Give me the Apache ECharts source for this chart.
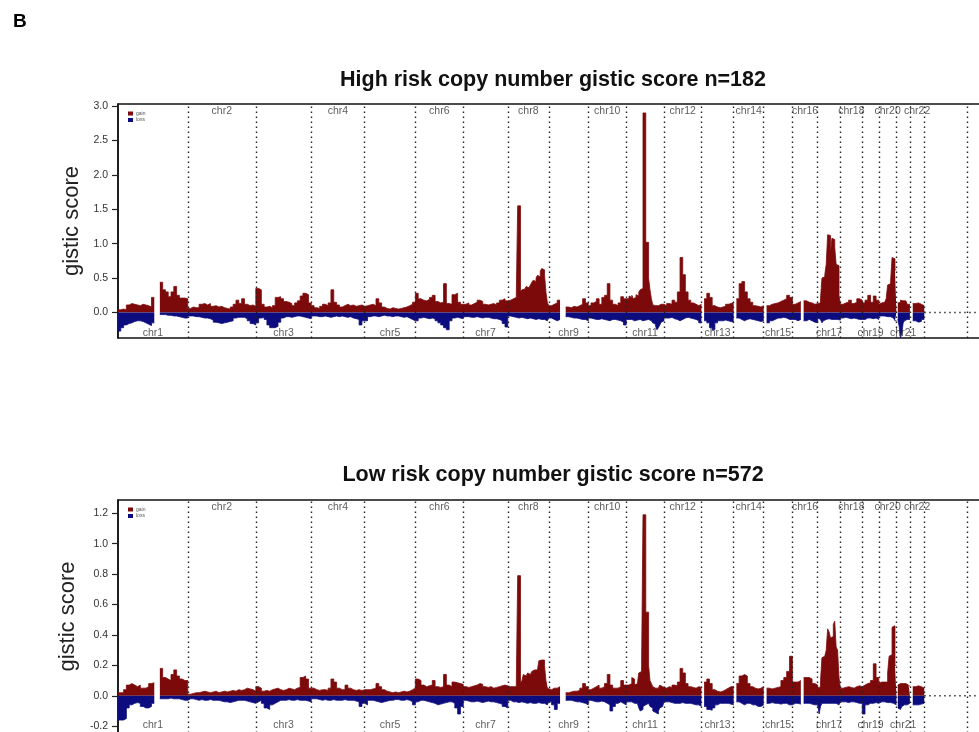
<!DOCTYPE html>
<html>
<head>
<meta charset="utf-8">
<script src="https://cdn.jsdelivr.net/npm/echarts@6/dist/echarts.min.js"></script>
<style>html,body{margin:0;padding:0;background:#fff;overflow:hidden}#c{width:1040px;height:732px}</style>
</head>
<body>
<div id="c"></div>
<script>
// chromosome lengths (Mb), chr1..chr22, chrX, chrY
const chrLengths = [249.25,243.2,198.0,191.15,180.9,171.1,159.1,146.4,141.2,135.5,135.0,133.85,115.15,107.35,102.5,90.35,81.2,78.1,59.1,63.0,48.1,51.3,155.3,59.4];
const chrNames = ['chr1','chr2','chr3','chr4','chr5','chr6','chr7','chr8','chr9','chr10','chr11','chr12','chr13','chr14','chr15','chr16','chr17','chr18','chr19','chr20','chr21','chr22'];
const highTicks = [0,0.5,1.0,1.5,2.0,2.5,3.0];
const lowTicks = [-0.2,0,0.2,0.4,0.6,0.8,1.0,1.2];

// binned gistic scores per chromosome (equal-width bins inside each chromosome)
const highGain = [
 [0.04,0.05,0.04,0.11,0.13,0.12,0.11,0.10,0.12,0.11,0.10,0.08,0.22,null,null,0.44,0.33,0.30,0.23,0.30,0.38,0.25,0.21,0.21,0.20],
 [0.06,0.08,0.07,0.07,0.12,0.13,0.11,0.13,0.09,0.10,0.08,0.09,0.07,0.06,0.05,0.08,0.12,0.18,0.13,0.20,0.12,0.10,0.11,0.09],
 [0.35,0.33,0.12,0.08,0.09,0.07,0.10,0.22,0.23,0.20,0.16,0.15,0.13,0.10,0.14,0.17,0.24,0.28,0.26,0.14],
 [0.10,0.07,0.06,0.09,0.12,0.10,0.14,0.33,0.15,0.11,0.08,0.10,0.12,0.10,0.11,0.09,0.10,0.11,0.09],
 [0.10,0.11,0.12,0.10,0.20,0.14,0.08,0.06,0.05,0.07,0.06,0.05,0.06,0.07,0.08,0.10,0.12,0.15],
 [0.28,0.20,0.18,0.17,0.19,0.22,0.25,0.16,0.14,0.15,0.42,0.13,0.12,0.26,0.28,0.15,0.12],
 [0.12,0.14,0.11,0.13,0.15,0.18,0.16,0.12,0.11,0.12,0.13,0.11,0.14,0.18,0.20,0.17],
 [0.16,0.18,0.17,0.20,0.18,0.22,0.20,1.55,1.55,0.30,0.33,0.34,0.33,0.38,0.36,0.38,0.40,0.44,0.47,0.45,0.50,0.54,0.52,0.60,0.64,0.62,0.55,0.30,0.15],
 [0.10,0.12,0.14,0.18,null,null,0.08,0.07,0.09,0.08,0.10,0.12,0.20,0.14],
 [0.10,0.14,0.16,0.20,0.12,0.22,0.25,0.42,0.18,0.12,0.10,0.14,0.23,0.20],
 [0.22,0.20,0.24,0.22,0.25,0.20,0.22,0.26,0.24,0.30,0.33,0.35,2.90,2.90,1.02,1.02,0.50,0.33,0.20,0.11,0.10,0.12,0.10,0.09,0.12,0.10,0.12],
 [0.10,0.13,0.12,0.18,0.15,0.30,0.80,0.55,0.30,0.18,0.14,0.12,0.10,0.12],
 [null,0.20,0.28,0.22,0.10,0.08,0.07,0.08,0.09,0.12,0.13,0.15],
 [null,0.20,0.42,0.45,0.30,0.20,0.15,0.10,0.09,0.08,0.10],
 [null,0.10,0.12,0.13,0.14,0.16,0.18,0.20,0.25,0.22],
 [0.12,0.14,0.16,null,0.17,0.15,0.14,0.12,0.13],
 [0.12,0.14,0.20,0.50,0.52,0.55,0.70,1.13,1.12,0.85,1.08,1.06,0.95,0.70,0.68,0.25],
 [0.12,0.14,0.15,0.18,0.13,0.15,0.20,0.18],
 [0.14,0.18,0.25,0.15,0.24,0.18],
 [0.12,0.14,0.13,0.15,0.13,0.20,0.40,0.42,0.45,0.80,0.78,0.62],
 [null,0.14,0.15,0.18,0.17,0.16,0.17,0.15,0.12,0.12],
 [null,0.13,0.14,0.12,0.10]
];
const highLoss = [
 [-0.27,-0.22,-0.18,-0.16,-0.15,-0.13,-0.12,-0.12,-0.13,-0.15,-0.17,-0.19,-0.15,null,null,-0.03,-0.03,-0.04,-0.04,-0.05,-0.05,-0.06,-0.07,-0.08,-0.08],
 [-0.05,-0.05,-0.06,-0.06,-0.07,-0.08,-0.08,-0.09,-0.11,-0.14,-0.15,-0.16,-0.15,-0.14,-0.13,-0.12,-0.08,-0.07,-0.07,-0.07,-0.09,-0.12,-0.16,-0.18],
 [-0.15,-0.08,-0.07,-0.10,-0.18,-0.22,-0.22,-0.20,-0.14,-0.08,-0.06,-0.06,-0.07,-0.06,-0.05,-0.05,-0.06,-0.07,-0.08,-0.09],
 [-0.05,-0.05,-0.06,-0.06,-0.05,-0.06,-0.07,-0.06,-0.05,-0.06,-0.05,-0.06,-0.07,-0.06,-0.08,-0.09,-0.10,-0.18,-0.12],
 [-0.12,-0.06,-0.05,-0.05,-0.06,-0.05,-0.04,-0.05,-0.05,-0.06,-0.05,-0.05,-0.06,-0.07,-0.06,-0.08,-0.10,-0.12],
 [-0.12,-0.08,-0.07,-0.08,-0.09,-0.08,-0.09,-0.12,-0.15,-0.18,-0.22,-0.25,-0.12,-0.08,-0.07,-0.08,-0.09],
 [-0.06,-0.06,-0.07,-0.07,-0.06,-0.07,-0.08,-0.07,-0.07,-0.08,-0.09,-0.09,-0.10,-0.12,-0.16,-0.21],
 [-0.05,-0.05,-0.06,-0.06,-0.07,-0.07,-0.08,-0.08,-0.08,-0.07,-0.07,-0.08,-0.08,-0.09,-0.09,-0.08,-0.08,-0.09,-0.10,-0.10,-0.09,-0.09,-0.10,-0.10,-0.11,-0.10,-0.10,-0.12,-0.14],
 [-0.08,-0.10,-0.12,-0.10,null,null,-0.06,-0.07,-0.08,-0.08,-0.09,-0.10,-0.10,-0.12],
 [-0.08,-0.09,-0.10,-0.10,-0.09,-0.10,-0.11,-0.12,-0.10,-0.10,-0.11,-0.12,-0.14,-0.18],
 [-0.10,-0.10,-0.11,-0.10,-0.10,-0.12,-0.12,-0.11,-0.10,-0.10,-0.11,-0.12,-0.12,-0.11,-0.10,-0.10,-0.11,-0.12,-0.13,-0.15,-0.17,-0.20,-0.25,-0.22,-0.18,-0.14,-0.12],
 [-0.08,-0.08,-0.07,-0.09,-0.10,-0.12,-0.10,-0.08,-0.07,-0.08,-0.09,-0.10,-0.12,-0.15],
 [null,-0.12,-0.15,-0.22,-0.25,-0.15,-0.12,-0.12,-0.11,-0.12,-0.13,-0.14],
 [null,-0.08,-0.10,-0.12,-0.10,-0.09,-0.10,-0.11,-0.12,-0.13,-0.12],
 [null,-0.15,-0.12,-0.10,-0.08,-0.08,-0.07,-0.08,-0.10,-0.10],
 [-0.10,-0.12,-0.10,null,-0.12,-0.10,-0.12,-0.14,-0.15],
 [-0.08,-0.10,-0.12,-0.15,-0.12,-0.10,-0.10,-0.09,-0.10,-0.10,-0.11,-0.10,-0.09,-0.10,-0.10,-0.11],
 [-0.08,-0.07,-0.08,-0.09,-0.08,-0.09,-0.10,-0.10],
 [-0.10,-0.08,-0.08,-0.09,-0.08,-0.10],
 [-0.05,-0.05,-0.06,-0.05,-0.05,-0.06,-0.05,-0.06,-0.07,-0.08,-0.10,-0.12],
 [null,-0.10,-0.20,-0.37,-0.30,-0.15,-0.12,-0.10,-0.12,-0.10],
 [null,-0.12,-0.14,-0.13,-0.10]
];
const lowGain = [
 [0.02,0.02,0.04,0.07,0.08,0.07,0.06,0.07,0.05,0.05,0.06,0.08,0.085,null,null,0.18,0.12,0.11,0.10,0.14,0.17,0.13,0.11,0.10,0.10],
 [0.01,0.015,0.02,0.02,0.025,0.03,0.025,0.02,0.025,0.03,0.02,0.025,0.03,0.025,0.03,0.035,0.03,0.04,0.035,0.04,0.05,0.045,0.04,0.03],
 [0.06,0.05,0.03,0.035,0.03,0.04,0.045,0.05,0.04,0.035,0.04,0.05,0.045,0.04,0.05,0.055,0.12,0.13,0.11,0.05],
 [0.05,0.04,0.035,0.04,0.04,0.035,0.05,0.11,0.09,0.05,0.04,0.04,0.07,0.05,0.04,0.035,0.04,0.035,0.04],
 [0.04,0.04,0.045,0.05,0.08,0.06,0.04,0.03,0.025,0.02,0.025,0.02,0.025,0.03,0.025,0.03,0.04,0.05],
 [0.11,0.10,0.07,0.06,0.065,0.07,0.10,0.06,0.055,0.06,0.14,0.07,0.06,0.09,0.085,0.08,0.075],
 [0.06,0.055,0.06,0.065,0.07,0.08,0.075,0.06,0.055,0.06,0.05,0.055,0.06,0.065,0.07,0.065],
 [0.06,0.06,0.055,0.06,0.065,0.06,0.07,0.79,0.79,0.08,0.10,0.14,0.13,0.14,0.15,0.14,0.15,0.16,0.17,0.16,0.17,0.18,0.23,0.235,0.23,0.235,0.20,0.10,0.05],
 [0.04,0.05,0.05,0.06,null,null,0.02,0.025,0.03,0.03,0.035,0.05,0.08,0.06],
 [0.04,0.05,0.06,0.07,0.05,0.06,0.08,0.14,0.07,0.05,0.05,0.06,0.10,0.07],
 [0.06,0.07,0.07,0.08,0.12,0.11,0.07,0.08,0.09,0.15,0.16,0.20,1.19,1.19,0.55,0.55,0.20,0.10,0.08,0.06,0.05,0.06,0.05,0.06,0.07,0.06,0.07],
 [0.05,0.06,0.055,0.07,0.065,0.09,0.18,0.15,0.08,0.06,0.055,0.05,0.06,0.055],
 [null,0.09,0.11,0.08,0.04,0.03,0.025,0.03,0.04,0.05,0.06,0.06],
 [null,0.08,0.13,0.14,0.13,0.08,0.06,0.05,0.045,0.05,0.06],
 [null,0.05,0.045,0.05,0.055,0.06,0.10,0.12,0.16,0.26],
 [0.09,0.09,0.10,null,0.12,0.12,0.11,0.08,0.07],
 [0.05,0.06,0.10,0.25,0.26,0.27,0.30,0.44,0.42,0.38,0.39,0.47,0.49,0.32,0.30,0.12],
 [0.05,0.055,0.06,0.055,0.05,0.06,0.065,0.06],
 [0.07,0.08,0.085,0.10,0.21,0.12],
 [0.08,0.09,0.08,0.09,0.10,0.09,0.15,0.26,0.27,0.45,0.46,0.20],
 [null,0.07,0.08,0.085,0.08,0.09,0.08,0.075,0.07,0.06],
 [null,0.06,0.065,0.06,0.05]
];
const lowLoss = [
 [-0.16,-0.16,-0.15,-0.08,-0.06,-0.05,-0.045,-0.05,-0.07,-0.08,-0.08,-0.07,-0.05,null,null,-0.02,-0.02,-0.02,-0.015,-0.02,-0.02,-0.02,-0.025,-0.03,-0.03],
 [-0.02,-0.02,-0.025,-0.03,-0.025,-0.03,-0.03,-0.025,-0.03,-0.03,-0.03,-0.035,-0.04,-0.04,-0.045,-0.04,-0.035,-0.03,-0.03,-0.03,-0.035,-0.04,-0.045,-0.05],
 [-0.04,-0.03,-0.05,-0.08,-0.09,-0.06,-0.05,-0.04,-0.03,-0.03,-0.03,-0.025,-0.03,-0.03,-0.025,-0.03,-0.03,-0.03,-0.035,-0.04],
 [-0.02,-0.02,-0.025,-0.03,-0.025,-0.03,-0.03,-0.025,-0.03,-0.03,-0.03,-0.025,-0.03,-0.03,-0.03,-0.035,-0.04,-0.07,-0.05],
 [-0.06,-0.03,-0.03,-0.035,-0.04,-0.045,-0.04,-0.035,-0.03,-0.03,-0.025,-0.025,-0.03,-0.03,-0.025,-0.03,-0.04,-0.06],
 [-0.04,-0.03,-0.03,-0.035,-0.04,-0.045,-0.05,-0.06,-0.055,-0.05,-0.045,-0.04,-0.04,-0.05,-0.08,-0.12,-0.07],
 [-0.03,-0.035,-0.04,-0.04,-0.035,-0.04,-0.045,-0.04,-0.035,-0.04,-0.04,-0.045,-0.05,-0.055,-0.07,-0.08],
 [-0.03,-0.03,-0.035,-0.04,-0.04,-0.04,-0.045,-0.045,-0.04,-0.04,-0.04,-0.045,-0.045,-0.05,-0.05,-0.045,-0.045,-0.05,-0.05,-0.05,-0.05,-0.045,-0.05,-0.05,-0.055,-0.05,-0.05,-0.06,-0.07],
 [-0.04,-0.06,-0.09,-0.05,null,null,-0.03,-0.03,-0.035,-0.04,-0.04,-0.045,-0.05,-0.06],
 [-0.03,-0.035,-0.04,-0.04,-0.035,-0.04,-0.05,-0.06,-0.10,-0.07,-0.05,-0.04,-0.05,-0.06],
 [-0.04,-0.04,-0.05,-0.04,-0.05,-0.05,-0.04,-0.05,-0.06,-0.08,-0.10,-0.09,-0.07,-0.06,-0.05,-0.05,-0.06,-0.07,-0.08,-0.10,-0.11,-0.12,-0.12,-0.10,-0.08,-0.07,-0.06],
 [-0.04,-0.04,-0.045,-0.05,-0.05,-0.05,-0.045,-0.05,-0.05,-0.05,-0.055,-0.06,-0.06,-0.07],
 [null,-0.07,-0.09,-0.095,-0.08,-0.06,-0.05,-0.05,-0.05,-0.05,-0.055,-0.06],
 [null,-0.04,-0.05,-0.06,-0.05,-0.05,-0.06,-0.06,-0.07,-0.07,-0.06],
 [null,-0.05,-0.045,-0.05,-0.05,-0.055,-0.05,-0.05,-0.06,-0.06],
 [-0.05,-0.05,-0.055,null,-0.05,-0.05,-0.055,-0.06,-0.06],
 [-0.05,-0.12,-0.07,-0.05,-0.05,-0.045,-0.05,-0.05,-0.05,-0.055,-0.05,-0.05,-0.05,-0.06,-0.06,-0.055],
 [-0.04,-0.04,-0.045,-0.04,-0.04,-0.045,-0.05,-0.05],
 [-0.12,-0.06,-0.05,-0.05,-0.045,-0.05],
 [-0.04,-0.04,-0.045,-0.04,-0.04,-0.045,-0.04,-0.045,-0.05,-0.05,-0.06,-0.06],
 [null,-0.08,-0.09,-0.08,-0.07,-0.06,-0.06,-0.06,-0.05,-0.05],
 [null,-0.06,-0.06,-0.055,-0.05]
];

const chrStart = [];
let acc = 0;
chrLengths.forEach(l => { chrStart.push(acc); acc += l; });
const X_MAX = 3205;
const Y_HIGH = [-0.37, 3.03];
const Y_LOW = [-0.245, 1.2875];

function steps(bins) {
  const pts = [];
  bins.forEach((vals, c) => {
    const w = chrLengths[c] / vals.length;
    vals.forEach((v, i) => {
      const x0 = chrStart[c] + i * w;
      if (v === null) pts.push([x0 + w / 2, '-']);
      else { pts.push([x0, v]); pts.push([x0 + w, v]); }
    });
  });
  return pts;
}

const FONT = 'Liberation Sans, Arial, Helvetica, sans-serif';
const GAIN = '#7d0a0a';
const LOSS = '#0c0c7e';

function panelSeries(gi, gain, loss, yr) {
  const boundaries = chrStart.slice(1).map(x => ({ xAxis: x }));
  const labels = chrNames.map((n, c) => {
    const mid = chrStart[c] + chrLengths[c] / 2;
    const top = (c % 2 === 1);
    return {
      name: n,
      value: [mid, top ? yr[1] : yr[0]],
      label: { position: top ? 'bottom' : 'top', distance: top ? 1 : (gi === 0 ? -1 : 2) }
    };
  });
  return [
    {
      type: 'line', xAxisIndex: gi, yAxisIndex: gi, silent: true,
      data: [], symbol: 'none', z: 1,
      markLine: {
        silent: true, symbol: 'none', label: { show: false },
        lineStyle: { color: '#222', width: 1.4, type: [1.4, 3.6] },
        data: boundaries, animation: false
      }
    },
    {
      name: 'gain', type: 'line', xAxisIndex: gi, yAxisIndex: gi, data: steps(gain),
      symbol: 'none', connectNulls: false, z: 3,
      lineStyle: { color: GAIN, width: 0.8 }, itemStyle: { color: GAIN },
      areaStyle: { color: GAIN, opacity: 1 }
    },
    {
      name: 'loss', type: 'line', xAxisIndex: gi, yAxisIndex: gi, data: steps(loss),
      symbol: 'none', connectNulls: false, z: 3,
      lineStyle: { color: LOSS, width: 0.8 }, itemStyle: { color: LOSS },
      areaStyle: { color: LOSS, opacity: 1 }
    },
    {
      type: 'line', xAxisIndex: gi, yAxisIndex: gi, symbol: 'none', z: 2,
      data: [[chrStart[22], 0], [X_MAX, 0]],
      lineStyle: { color: '#222', width: 1.4, type: [1.4, 3.6] }
    },
    {
      type: 'scatter', xAxisIndex: gi, yAxisIndex: gi, symbolSize: 1, z: 5,
      itemStyle: { color: 'rgba(0,0,0,0)' },
      data: labels,
      label: { show: true, formatter: p => p.name, color: '#333', fontSize: 10.5, fontFamily: FONT }
    }
  ];
}

function yAxis(gi, yr, ticks) {
  return {
    type: 'value', gridIndex: gi, min: yr[0], max: yr[1],
    name: 'gistic score', nameLocation: 'middle', nameGap: 35,
    nameTextStyle: { fontSize: 22, color: '#222', fontFamily: FONT },
    splitLine: { show: false },
    axisLine: { show: true, lineStyle: { color: '#111', width: 1.5 } },
    axisTick: { show: true, length: 6, customValues: ticks, lineStyle: { color: '#222', width: 1.2 } },
    axisLabel: { customValues: ticks, formatter: v => v.toFixed(1), fontSize: 10.5, color: '#333', margin: 10, fontFamily: FONT }
  };
}

function xAxis(gi) {
  return {
    type: 'value', gridIndex: gi, min: 0, max: X_MAX,
    axisLine: { show: false }, axisTick: { show: false }, axisLabel: { show: false }, splitLine: { show: false }
  };
}

const legendCommon = {
  data: ['gain', 'loss'], orient: 'vertical', left: 123, icon: 'rect',
  itemWidth: 5, itemHeight: 4, itemGap: 1.5, selectedMode: false,
  textStyle: { fontSize: 5, color: '#555', fontFamily: FONT, padding: [0, 0, 0, -2] }
};

const chart = echarts.init(document.getElementById('c'), null, { renderer: 'canvas' });
chart.setOption({
  backgroundColor: '#fff',
  animation: false,
  textStyle: { fontFamily: FONT },
  title: [
    { text: 'B', left: 8, top: 7, textStyle: { fontSize: 19, fontWeight: 'bold', color: '#000', fontFamily: FONT } },
    { text: 'High risk copy number gistic score n=182', left: 548, textAlign: 'center', top: 64, textStyle: { fontSize: 21.5, fontWeight: 'bold', color: '#111', fontFamily: FONT } },
    { text: 'Low risk copy number gistic score n=572', left: 548, textAlign: 'center', top: 459, textStyle: { fontSize: 21.5, fontWeight: 'bold', color: '#111', fontFamily: FONT } }
  ],
  legend: [
    Object.assign({}, legendCommon, { top: 106 }),
    Object.assign({}, legendCommon, { top: 502 })
  ],
  grid: [
    { left: 118, width: 897, top: 104, height: 234, show: true, borderColor: '#111', borderWidth: 1.5, backgroundColor: 'transparent', outerBoundsMode: 'none' },
    { left: 118, width: 897, top: 500, height: 233, show: true, borderColor: '#111', borderWidth: 1.5, backgroundColor: 'transparent', outerBoundsMode: 'none' }
  ],
  xAxis: [xAxis(0), xAxis(1)],
  yAxis: [yAxis(0, Y_HIGH, highTicks), yAxis(1, Y_LOW, lowTicks)],
  series: [].concat(panelSeries(0, highGain, highLoss, Y_HIGH), panelSeries(1, lowGain, lowLoss, Y_LOW))
});
</script>
</body>
</html>
